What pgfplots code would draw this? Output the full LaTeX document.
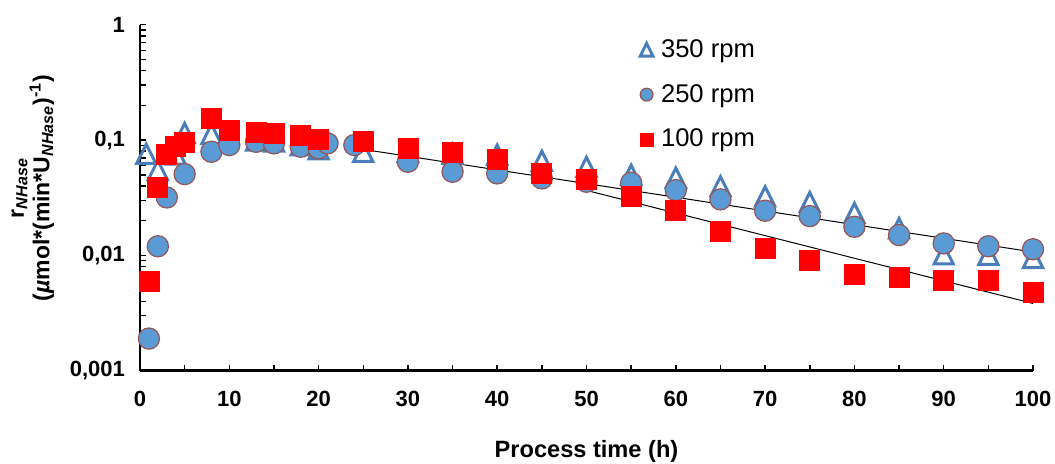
\documentclass[border=0pt]{standalone}
\usepackage{fontspec}
\setmainfont{Liberation Sans}
\usepackage{pgfplots}
\pgfplotsset{compat=1.18}
\definecolor{triblue}{RGB}{74,126,187}
\definecolor{circfill}{RGB}{91,155,213}
\definecolor{circedge}{RGB}{150,85,85}
\pgfdeclareplotmark{tri}{%
  \pgfpathmoveto{\pgfqpoint{0pt}{\pgfplotmarksize}}%
  \pgfpathlineto{\pgfqpoint{-\pgfplotmarksize}{-\pgfplotmarksize}}%
  \pgfpathlineto{\pgfqpoint{\pgfplotmarksize}{-\pgfplotmarksize}}%
  \pgfpathclose
  \pgfusepathqstroke}
\begin{document}
\begin{tikzpicture}
\useasboundingbox (-70pt,-46.15pt) rectangle (457.5pt,185.35pt);
\begin{axis}[
  at={(0pt,0pt)}, anchor=south west, scale only axis,
  width=446.5pt, height=173pt,
  xmin=0, xmax=100, ymin=0.001, ymax=1, ymode=log,
  axis x line=bottom, axis y line=left,
  axis line style={-, line width=1.4pt, black},
  xtick={0,10,20,30,40,50,60,70,80,90,100},
  minor xtick={5,15,25,35,45,55,65,75,85,95},
  xticklabels={0,10,20,30,40,50,60,70,80,90,100},
  ytick={0.001,0.01,0.1,1},
  yticklabels={{0,001},{0,01},{0,1},{1}},
  minor ytick={0.002,0.003,0.004,0.005,0.006,0.007,0.008,0.009,
               0.02,0.03,0.04,0.05,0.06,0.07,0.08,0.09,
               0.2,0.3,0.4,0.5,0.6,0.7,0.8,0.9},
  tick align=inside, major tick length=3pt, minor tick length=3pt,
  every tick/.style={black, line width=0.75pt},
  tick label style={font=\bfseries\fontsize{11}{13}\selectfont},
  xticklabel style={yshift=-6.5pt},
  yticklabel style={xshift=-4pt},
  clip=false,
  xlabel={Process time (h)},
  every axis x label/.style={at={(axis description cs:0.5,-0.232)}, anchor=center,
      font=\bfseries\fontsize{11.8}{14}\selectfont},
  ylabel={r\textsubscript{\textit{NHase}}\\(\textit{µ}mol*(min*U\textsubscript{\textit{NHase}})\textsuperscript{-1})},
  every axis y label/.style={at={(axis description cs:-0.12,0.528)}, rotate=90,
      anchor=center, align=center, font=\bfseries\fontsize{11.5}{11.5}\selectfont},
  legend cell align=left,
  legend style={draw=none, fill=none, at={(axis description cs:0.553,0.982)},
      anchor=north west, font=\fontsize{12.8}{14}\selectfont, row sep=8pt,
      /tikz/every odd column/.append style={column sep=2pt}},
  legend image code/.code={\draw[#1, mark size=3.2pt] plot coordinates {(5pt,0pt)};},
]
\addplot[only marks, mark=tri, mark size=4.8pt, draw=triblue, line width=1.5pt]
coordinates {
(0.7,0.076) (2,0.055) (4,0.075) (5,0.115) (8,0.113) (13,0.099) (15,0.097)
(18,0.090) (20,0.083) (25,0.079) (30,0.079) (35,0.076) (40,0.0746)
(45,0.066) (50,0.0586) (55,0.050) (60,0.0471) (65,0.0397) (70,0.0325)
(75,0.029) (80,0.0233) (85,0.0172) (90,0.0102) (95,0.0101) (100,0.0095)
};
\addlegendentry{350 rpm}
\addplot[only marks, mark=*, mark size=5.3pt, mark options={draw=circedge, fill=circfill, line width=0.6pt}]
coordinates {
(1,0.0019) (2,0.0120) (3,0.0318) (5,0.0507) (8,0.0792) (10,0.0905) (13,0.0966)
(15,0.0936) (18,0.0875) (20,0.0847) (21,0.0936) (24,0.0905) (30,0.0648)
(35,0.0531) (40,0.0514) (45,0.0465) (50,0.0435) (55,0.0426) (60,0.0368)
(65,0.0306) (70,0.0244) (75,0.0219) (80,0.0177) (85,0.0150) (90,0.0127)
(95,0.0120) (100,0.0113)
};
\addlegendentry{250 rpm}
\addplot[only marks, mark=square*, mark size=5pt, mark options={draw=red, fill=red}]
coordinates {
(1,0.0060) (2,0.039) (3,0.0756) (4,0.0875) (5,0.0948) (8,0.154) (10,0.122)
(13,0.116) (15,0.114) (18,0.110) (20,0.101) (25,0.0966) (30,0.0847)
(35,0.0776) (40,0.068) (45,0.0514) (50,0.0456) (55,0.0322) (60,0.0244)
(65,0.0163) (70,0.0115) (75,0.0090) (80,0.0069) (85,0.0064) (90,0.0061)
(95,0.0061) (100,0.0048)
};
\addlegendentry{100 rpm}
\addplot[black, line width=0.5pt, forget plot] coordinates {(25,0.083) (100,0.0107)};
\addplot[black, line width=0.5pt, forget plot] coordinates {(50,0.0366) (100,0.00383)};
\end{axis}
\end{tikzpicture}
\end{document}
